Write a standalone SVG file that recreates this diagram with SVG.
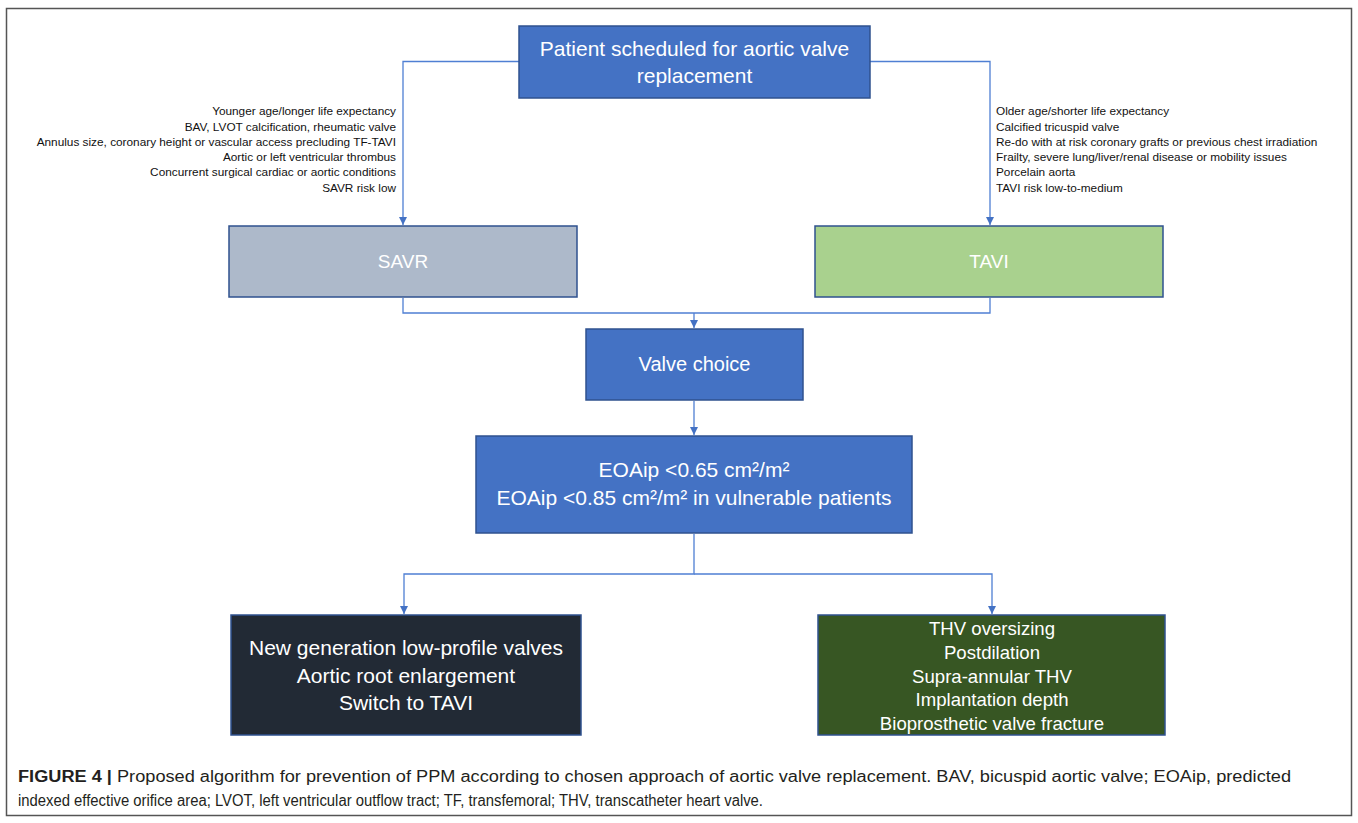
<svg xmlns="http://www.w3.org/2000/svg" width="1358" height="823" viewBox="0 0 1358 823">
<defs>
<marker id="arr" viewBox="0 0 10 10" refX="10" refY="5" markerWidth="8" markerHeight="8" markerUnits="userSpaceOnUse" orient="auto">
<path d="M0,0 L10,5 L0,10 z" fill="#4472c4"/>
</marker>
<style>
.box{stroke:#2f528f;stroke-width:1.5}
.wt{font-family:"Liberation Sans",Arial,sans-serif;fill:#ffffff;text-anchor:middle}
.side{font-family:"Liberation Sans",Arial,sans-serif;font-size:11.8px;fill:#111111}
.con{fill:none;stroke:#4f7fd3;stroke-width:1.3}
.cap{font-family:"Liberation Sans",Arial,sans-serif;font-size:16px;fill:#231f20}
</style>
</defs>
<rect x="0" y="0" width="1358" height="823" fill="#ffffff"/>
<rect x="6.5" y="8.5" width="1345" height="807" fill="none" stroke="#555555" stroke-width="1.5"/>

<g id="connectors">
<path class="con" d="M519,61.5 H403 V225" marker-end="url(#arr)"/>
<path class="con" d="M870,61.5 H990 V225" marker-end="url(#arr)"/>
<path class="con" d="M403,298 V313 H990 V298"/>
<path class="con" d="M694,313 V328" marker-end="url(#arr)"/>
<path class="con" d="M694,401 V435" marker-end="url(#arr)"/>
<path class="con" d="M694,534 V574 H404 V614"  marker-end="url(#arr)"/>
<path class="con" d="M694,574 H992 V614" marker-end="url(#arr)"/>
</g>

<g id="node-start">
<rect class="box" x="519" y="26" width="351" height="72" fill="#4472c4"/>
<text class="wt" font-size="21" x="694.5" y="56">Patient scheduled for aortic valve</text>
<text class="wt" font-size="21" x="694.5" y="83">replacement</text>
</g>

<g id="label-savr-criteria">
<text class="side" text-anchor="end" x="396" y="115">Younger age/longer life expectancy</text>
<text class="side" text-anchor="end" x="396" y="130.5">BAV, LVOT calcification, rheumatic valve</text>
<text class="side" text-anchor="end" x="396" y="145.8">Annulus size, coronary height or vascular access precluding TF-TAVI</text>
<text class="side" text-anchor="end" x="396" y="161">Aortic or left ventricular thrombus</text>
<text class="side" text-anchor="end" x="396" y="176.4">Concurrent surgical cardiac or aortic conditions</text>
<text class="side" text-anchor="end" x="396" y="191.6">SAVR risk low</text>
</g>

<g id="label-tavi-criteria">
<text class="side" x="996" y="115">Older age/shorter life expectancy</text>
<text class="side" x="996" y="130.5">Calcified tricuspid valve</text>
<text class="side" x="996" y="145.8">Re-do with at risk coronary grafts or previous chest irradiation</text>
<text class="side" x="996" y="161">Frailty, severe lung/liver/renal disease or mobility issues</text>
<text class="side" x="996" y="176.4">Porcelain aorta</text>
<text class="side" x="996" y="191.6">TAVI risk low-to-medium</text>
</g>

<g id="node-savr">
<rect class="box" x="229" y="226" width="348" height="71" fill="#adb9ca"/>
<text class="wt" font-size="19" x="403" y="268">SAVR</text>
</g>

<g id="node-tavi">
<rect class="box" x="815" y="226" width="348" height="71" fill="#a9d18e"/>
<text class="wt" font-size="19" x="989" y="268">TAVI</text>
</g>

<g id="node-valve-choice">
<rect class="box" x="586" y="329" width="217" height="71" fill="#4472c4"/>
<text class="wt" font-size="20" x="694.5" y="371">Valve choice</text>
</g>

<g id="node-eoaip">
<rect class="box" x="476" y="436" width="436" height="97" fill="#4472c4"/>
<text class="wt" font-size="21" x="694" y="477">EOAip &lt;0.65 cm²/m²</text>
<text class="wt" font-size="21" x="694" y="505">EOAip &lt;0.85 cm²/m² in vulnerable patients</text>
</g>

<g id="node-savr-options">
<rect class="box" x="231" y="615" width="350" height="120" fill="#222a35"/>
<text class="wt" font-size="21" x="406" y="655">New generation low-profile valves</text>
<text class="wt" font-size="21" x="406" y="683">Aortic root enlargement</text>
<text class="wt" font-size="21" x="406" y="710">Switch to TAVI</text>
</g>

<g id="node-tavi-options">
<rect class="box" x="818" y="615" width="347" height="120" fill="#375623"/>
<text class="wt" font-size="18.6" x="992" y="635">THV oversizing</text>
<text class="wt" font-size="18.6" x="992" y="659">Postdilation</text>
<text class="wt" font-size="18.6" x="992" y="683">Supra-annular THV</text>
<text class="wt" font-size="18.6" x="992" y="706">Implantation depth</text>
<text class="wt" font-size="18.6" x="992" y="730">Bioprosthetic valve fracture</text>
</g>

<g id="caption">
<text class="cap" x="18" y="782" textLength="1273" lengthAdjust="spacingAndGlyphs"><tspan font-weight="bold">FIGURE 4 |</tspan> Proposed algorithm for prevention of PPM according to chosen approach of aortic valve replacement. BAV, bicuspid aortic valve; EOAip, predicted</text>
<text class="cap" x="18" y="806" textLength="745" lengthAdjust="spacingAndGlyphs">indexed effective orifice area; LVOT, left ventricular outflow tract; TF, transfemoral; THV, transcatheter heart valve.</text>
</g>
</svg>
